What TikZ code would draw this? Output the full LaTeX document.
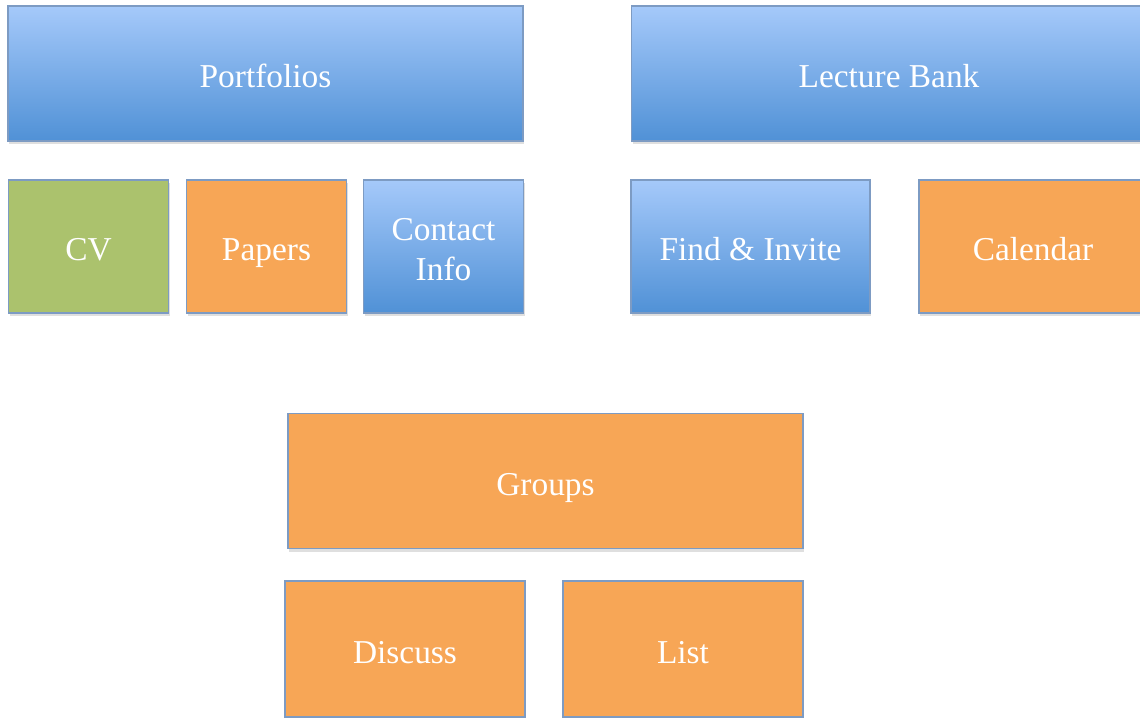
\documentclass[tikz,border=0pt]{standalone}
\usepackage{fontspec}
\setmainfont{Liberation Serif}
\usetikzlibrary{positioning}
\usetikzlibrary{shadows}
\definecolor{bluetop}{RGB}{165,201,250}
\definecolor{bluebot}{RGB}{80,145,214}
\definecolor{boxorange}{RGB}{247,166,86}
\definecolor{boxgreen}{RGB}{171,194,109}
\definecolor{boxline}{RGB}{125,155,195}
\tikzset{
box/.style={
  rectangle,
  inner sep=0pt,
  outer sep=0pt,
  draw=boxline,
  line width=0.6pt,
  text=white,
  font=\fontsize{19}{23}\selectfont,
  text height=16pt,
  text depth=0pt,
  drop shadow={opacity=0.25,shadow xshift=0.02cm,shadow yshift=-0.06cm}
  },
bluebox/.style={box,top color=bluetop,bottom color=bluebot},
orangebox/.style={box,fill=boxorange},
greenbox/.style={box,fill=boxgreen},
wide/.style={minimum width=10.3cm,minimum height=2.7cm},
small/.style={minimum width=3.2cm,minimum height=2.66cm}
}

\begin{document}
\begin{tikzpicture}
    \useasboundingbox (0,0) rectangle (22.8,-14.34);
    \clip (0,0) rectangle (22.8,-14.34);
    \node[bluebox,wide] (port) at (5.31,-1.47) {Portfolios};
    \node[bluebox,wide] (lect) at (17.78,-1.47) {Lecture Bank};
    \node[greenbox,small] (cv) at (1.77,-4.93) {CV};
    \node[orangebox,small] (papers) [right=0.36cm of cv] {Papers};
    \node[bluebox,small,text height=39pt] (contact) [right=0.34cm of papers]
        {\begin{tabular}[b]{@{}c@{}}Contact\\Info\end{tabular}};
    \node[bluebox,minimum width=4.78cm,minimum height=2.66cm] (find) at (15.01,-4.93) {Find \& Invite};
    \node[orangebox,minimum width=4.56cm,minimum height=2.66cm] (cal) at (20.66,-4.93) {Calendar};
    \node[orangebox,wide] (groups) at (10.91,-9.62) {Groups};
    \node[orangebox,minimum width=4.8cm,minimum height=2.72cm] (disc) at (8.1,-12.98) {Discuss};
    \node[orangebox,minimum width=4.8cm,minimum height=2.72cm] (list) [right=0.76cm of disc] {List};
\end{tikzpicture}
\end{document}
